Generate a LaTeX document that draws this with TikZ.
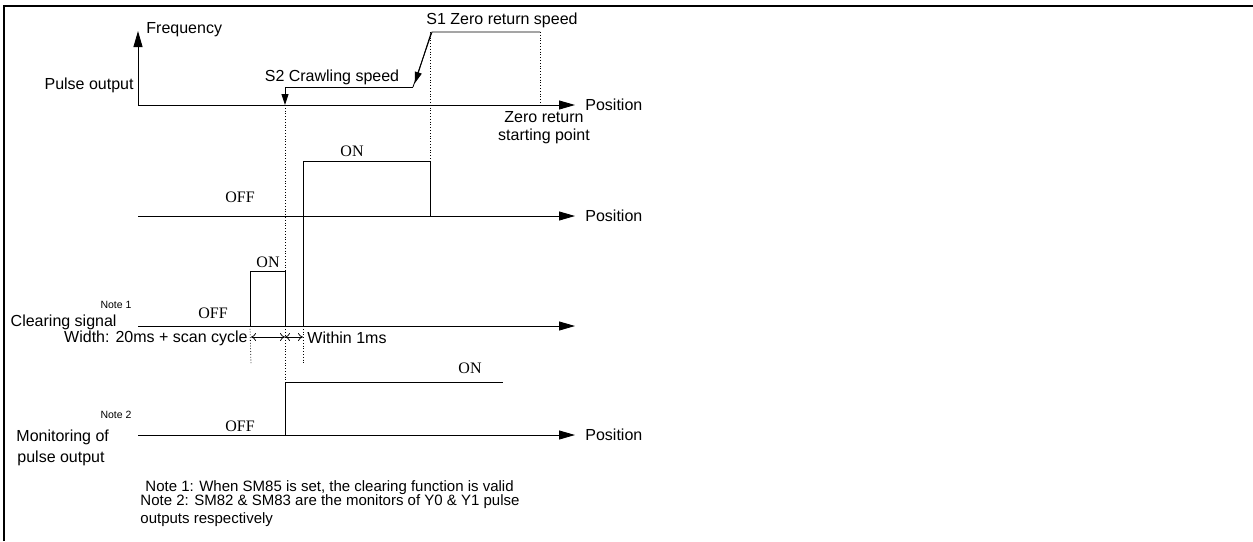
\documentclass[tikz,border=0pt]{standalone}
\usepackage{fontspec}
\setmainfont{Liberation Sans}
\newfontfamily\tnr{Liberation Serif}
\usetikzlibrary{arrows.meta}
\begin{document}
\begin{tikzpicture}[x=1pt,y=-1pt,line width=0.85pt,
  lbl/.style={font=\fontsize{16}{18}\selectfont,inner sep=0pt},
  onoff/.style={font=\tnr\fontsize{16}{18}\selectfont,inner sep=0pt},
  notesmall/.style={font=\fontsize{10.5}{12}\selectfont,inner sep=0pt},
  notetxt/.style={font=\fontsize{15}{17}\selectfont,inner sep=0pt,anchor=west},
  axisarrow/.style={-{Triangle[length=16pt,width=9pt]}},
  smallarrow/.style={-{Triangle[length=11pt,width=7pt]}},
  dots/.style={dotted,line width=0.8pt},
  dimarrow/.style={{To[length=5pt,width=8pt]}-{To[length=5pt,width=8pt]},line width=0.7pt},
  framestyle/.style={line width=2.8pt}]
\useasboundingbox (0,0) rectangle (1253,541);
% frame
\coordinate (fl) at (4,541);
\coordinate (ftl) at (4,6);
\coordinate (ftr) at (1253,6);
\draw[framestyle] (fl) -- (ftl) -- (ftr);

% ---- Pulse output axis
\coordinate (o1) at (138,105);
\coordinate (e1) at (575,105);
\coordinate (f1) at (138,31);
\draw[axisarrow] (o1) -- (f1);
\draw[axisarrow] (o1) -- (e1);
\node[lbl,anchor=west] (freq) at (146,30) {Frequency};
\node[lbl,anchor=east] (pout) at (134,85) {Pulse output};
\node[lbl,anchor=west] (pos1) at (585,105) {Position};
% profile
\coordinate (s2a) at (285,105);
\coordinate (s2b) at (285,87);
\coordinate (s2c) at (413,87);
\coordinate (s1a) at (432,32);
\coordinate (s1b) at (540,32);
\coordinate (s1c) at (540,105);
\draw[smallarrow] (s2c) -- (s2b) -- (s2a);
\draw (s2c) -- (s1a) -- (s1b);
\draw[dots] (s1b) -- (s1c);
\coordinate (anA) at (431,33);
\coordinate (anB) at (415,83);
\draw[smallarrow] (anA) -- (anB);
\node[lbl] (s1lbl) at (502,20) {S1 Zero return speed};
\node[lbl] (s2lbl) at (332,77) {S2 Crawling speed};
\node[lbl] (zr1) at (544,117) {Zero return};
\node[lbl] (zr2) at (544,136) {starting point};

% dotted guides
\coordinate (g1a) at (430,32);
\coordinate (g1b) at (430,161);
\draw[dots] (g1a) -- (g1b);
\coordinate (g2b) at (285,382);
\draw[dots] (s2a) -- (g2b);

% ---- Signal 2
\coordinate (o2) at (138,216);
\coordinate (e2) at (575,216);
\draw[axisarrow] (o2) -- (e2);
\node[lbl,anchor=west] (pos2) at (585,216) {Position};
\coordinate (p2a) at (303,326);
\coordinate (p2b) at (303,161);
\coordinate (p2c) at (430,216);
\draw (p2a) -- (p2b) -- (g1b) -- (p2c);
\node[onoff] (on2) at (352,151) {ON};
\node[onoff] (off2) at (240,197) {OFF};

% ---- Clearing signal
\coordinate (o3) at (138,326);
\coordinate (e3) at (575,326);
\draw[axisarrow] (o3) -- (e3);
\coordinate (c1) at (250,326);
\coordinate (c2) at (250,271);
\coordinate (c3) at (285,271);
\coordinate (c4) at (285,326);
\draw (c1) -- (c2) -- (c3) -- (c4);
\node[onoff] (on3) at (268,262) {ON};
\node[onoff] (off3) at (213,313) {OFF};
\node[notesmall] (n1) at (116,305) {Note 1};
\node[lbl,anchor=east] (clr) at (117,322) {Clearing signal};
\node[lbl,anchor=east] (wid) at (248,338) {Width: 20ms + scan cycle};
\coordinate (d1) at (251,337);
\coordinate (d2) at (285,337);
\coordinate (d3) at (303,337);
\draw[dimarrow] (d1) -- (d2);
\draw[dimarrow] (d2) -- (d3);
\coordinate (v1) at (251,365);
\coordinate (v3) at (303,365);
\draw[dots] (c1) -- (v1);
\draw[dots] (p2a) -- (v3);
\node[lbl,anchor=west] (within) at (307,338) {Within 1ms};

% ---- Monitoring of pulse output
\coordinate (o4) at (138,435);
\coordinate (e4) at (575,435);
\draw[axisarrow] (o4) -- (e4);
\node[lbl,anchor=west] (pos4) at (585,435) {Position};
\coordinate (m1) at (285,435);
\coordinate (m3) at (503,382);
\draw (m1) -- (g2b) -- (m3);
\node[onoff] (on4) at (470,368) {ON};
\node[onoff] (off4) at (240,426) {OFF};
\node[notesmall] (n2) at (116,415) {Note 2};
\node[lbl,anchor=west] (mon1) at (16,437) {Monitoring of};
\node[lbl,anchor=west] (mon2) at (17,458) {pulse output};

% ---- notes
\node[notetxt] (nt1) at (145,488) {Note 1: When SM85 is set, the clearing function is valid};
\node[notetxt] (nt2) at (140,502) {Note 2: SM82 \& SM83 are the monitors of Y0 \& Y1 pulse};
\node[notetxt] (nt3) at (140,520) {outputs respectively};
\end{tikzpicture}
\end{document}
